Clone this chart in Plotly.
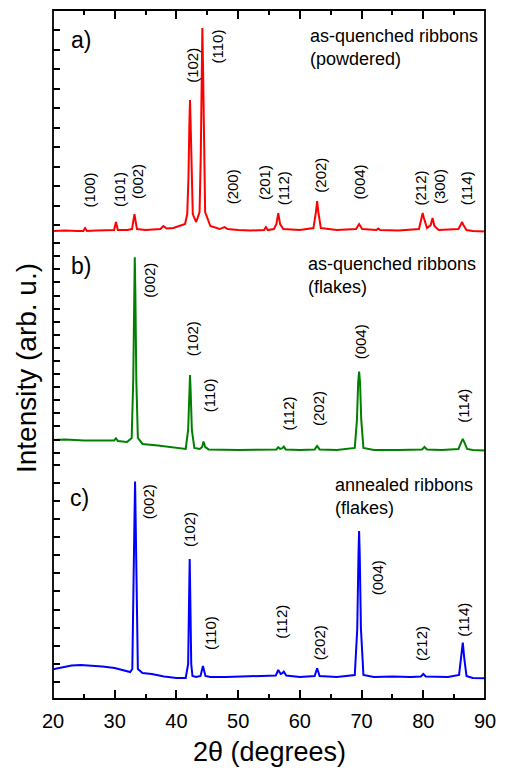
import plotly.graph_objects as go

# ---------------- data (2theta in degrees, intensity in arb. units) ----------------
# a) as-quenched ribbons (powdered)
two_theta_a = [20, 22, 24, 24.9, 25.2, 25.5, 27, 29, 29.9, 30.2, 30.5, 32, 32.8, 33.2, 33.6, 35,
               37.4, 37.9, 38.4, 39.5, 40.5, 41.4, 41.75, 41.95, 42.1, 42.2, 42.3, 42.45, 42.65,
               43.2, 43.75, 43.95, 44.1, 44.2, 44.3, 44.45, 44.65, 45.5, 47, 47.8, 48.3, 50, 52,
               54.2, 54.5, 54.8, 55.8, 56.2, 56.5, 56.8, 57.3, 60, 62.2, 62.6, 62.8, 63.0, 63.4,
               66, 69.1, 69.6, 70.1, 72.4, 72.7, 73.0, 76, 79.3, 79.7, 79.9, 80.1, 80.6, 81.2,
               81.5, 81.8, 82.5, 85.7, 86.1, 86.3, 86.5, 87, 88, 90]
intensity_a = [7, 7.5, 7, 7, 10, 7, 7.5, 7.5, 8, 16, 8, 8, 9, 24, 9, 8,
               9, 12, 9.5, 10, 12, 14, 24, 60, 115, 138, 115, 60, 24,
               16, 26, 85, 175, 210, 175, 85, 26, 12, 9, 11, 9, 8, 7.5,
               8, 11, 8, 9, 14, 25, 14, 9, 8, 10, 26, 37, 26, 10,
               8, 9, 14, 9, 8, 9.5, 8, 7.5, 9, 20, 25, 20, 10, 13,
               20, 12, 8, 9, 14, 16, 13, 8, 7, 6.5]

# b) as-quenched ribbons (flakes)
two_theta_b = [20, 22, 25, 28, 29.9, 30.2, 30.5, 32, 32.75, 33.0, 33.15, 33.25, 33.35, 33.5, 33.75,
               34.5, 37, 40, 41.5, 41.9, 42.1, 42.2, 42.3, 42.5, 42.9, 43.8, 44.15, 44.4, 44.65,
               45.2, 50, 55, 56.2, 56.5, 56.8, 57.1, 57.4, 57.7, 60, 62.4, 62.8, 63.2, 66, 68.9,
               69.25, 69.45, 69.6, 69.75, 69.95, 70.3, 72, 76, 79.8, 80.2, 80.6, 83, 85.7, 86.1,
               86.4, 86.7, 87.1, 88, 90]
intensity_b = [20, 20.5, 19.5, 19.5, 19.5, 21.5, 19, 18, 22, 80, 165, 202.7, 165, 80, 22,
               16, 14.5, 12, 11, 30, 70, 85, 70, 30, 12, 11, 13, 18.3, 13,
               10.5, 10, 10, 10.5, 12.7, 11, 11.5, 13.3, 10.5, 10, 10.5, 14, 10.5, 10, 12,
               40, 78, 88.3, 78, 40, 12, 10, 10, 10.5, 13, 10.5, 10, 11, 17,
               21, 17, 11, 10, 9.5]

# c) annealed ribbons (flakes)
two_theta_c = [20, 21.5, 23, 24.5, 26, 28, 30, 31.5, 32.5, 32.85, 33.05, 33.2, 33.3, 33.4, 33.55,
               33.75, 34.5, 36, 38, 40, 41.5, 41.9, 42.05, 42.15, 42.25, 42.4, 42.6, 43.2, 43.9,
               44.3, 44.7, 45.5, 48, 51, 54, 56.1, 56.5, 56.9, 57.1, 57.4, 57.8, 60, 62.4, 62.8,
               63.2, 66, 68.9, 69.3, 69.5, 69.6, 69.7, 69.9, 70.3, 72, 75, 78, 79.6, 80.0, 80.4,
               82, 84, 85.8, 86.15, 86.4, 86.65, 87.0, 88, 90]
intensity_c = [29.7, 31.5, 33.5, 34, 33.5, 32.5, 31, 29, 27, 30, 95, 180, 217.3, 180, 95,
               30, 26, 25, 22.5, 21, 21, 35, 100, 140, 100, 35, 23, 22, 23,
               33, 23, 22, 22, 22.5, 23, 23.5, 29, 25, 25.5, 27.3, 23.5, 22, 23, 30.7,
               23, 22, 24, 70, 145, 168, 145, 70, 24, 22, 22.5, 22, 22.5, 25, 22.5,
               22, 22, 24, 40, 56.3, 40, 23, 21, 20.7]

# peak labels: (text, 2theta position, intensity position)
labels_a = ["(100)", "(101)", "(002)", "(102)", "(110)", "(200)", "(201)", "(112)", "(202)",
            "(004)", "(212)", "(300)", "(114)"]
label_x_a = [25.9, 30.7, 33.8, 42.5, 46.7, 49.1, 54.2, 57.4, 63.2, 69.7, 79.5, 82.6, 86.9]
label_y_a = [48, 48, 56.3, 173, 191.3, 51.3, 55, 49.7, 63, 56.3, 49.7, 51.3, 49.7]

labels_b = ["(002)", "(102)", "(110)", "(112)", "(202)", "(004)", "(114)"]
label_x_b = [35.5, 42.5, 45.5, 58.1, 62.9, 69.75, 86.6]
label_y_b = [180, 121.7, 65, 46.7, 51.7, 117.7, 54.3]

labels_c = ["(002)", "(102)", "(110)", "(112)", "(202)", "(004)", "(212)", "(114)"]
label_x_c = [35.5, 42.2, 45.5, 57.1, 63.2, 72.5, 79.8, 86.5]
label_y_c = [197.3, 169, 66.3, 77.3, 56.3, 120.7, 55, 79.7]

panel_letters = ["a)", "b)", "c)"]
panel_titles = ["as-quenched ribbons<br>(powdered)",
                "as-quenched ribbons<br>(flakes)",
                "annealed ribbons<br>(flakes)"]

x_title = "2θ (degrees)"
y_title = "Intensity (arb. u.)"

FONT = "Liberation Sans, Arial, sans-serif"

fig = go.Figure()
fig.add_trace(go.Scatter(x=two_theta_a, y=intensity_a, mode="lines", xaxis="x2", yaxis="y3",
                         line=dict(color="#ff0000", width=2), showlegend=False))
fig.add_trace(go.Scatter(x=two_theta_b, y=intensity_b, mode="lines", xaxis="x", yaxis="y2",
                         line=dict(color="#008000", width=2), showlegend=False))
fig.add_trace(go.Scatter(x=two_theta_c, y=intensity_c, mode="lines", xaxis="x", yaxis="y",
                         line=dict(color="#0000ff", width=2), showlegend=False))

ann = []
for txts, xs, ys, yref in [(labels_a, label_x_a, label_y_a, "y3"),
                           (labels_b, label_x_b, label_y_b, "y2"),
                           (labels_c, label_x_c, label_y_c, "y")]:
    for t, xv, yv in zip(txts, xs, ys):
        ann.append(dict(text=t, x=xv, y=yv, xref="x", yref=yref, textangle=-90,
                        showarrow=False, xanchor="center", yanchor="middle",
                        font=dict(family=FONT, size=15, color="black")))

letter_pos = [(24.6, 198, "y3"), (24.6, 194, "y2"), (24.3, 200.7, "y")]
for t, (xv, yv, yref) in zip(panel_letters, letter_pos):
    ann.append(dict(text=t, x=xv, y=yv, xref="x", yref=yref, showarrow=False,
                    xanchor="center", yanchor="middle",
                    font=dict(family=FONT, size=23, color="black")))

title_pos = [(61.3, 190.3, "y3"), (61.0, 184.7, "y2"), (65.3, 202, "y")]
for t, (xv, yv, yref) in zip(panel_titles, title_pos):
    ann.append(dict(text=t, x=xv, y=yv, xref="x", yref=yref, showarrow=False,
                    xanchor="left", yanchor="middle", align="left",
                    font=dict(family=FONT, size=18, color="black")))

ann.append(dict(text=y_title, x=-0.063, y=0.48, xref="paper", yref="paper", textangle=-90,
                showarrow=False, xanchor="center", yanchor="middle",
                font=dict(family=FONT, size=28, color="black")))
ann.append(dict(text=x_title, x=0.5, y=-0.077, xref="paper", yref="paper",
                showarrow=False, xanchor="center", yanchor="middle",
                font=dict(family=FONT, size=27, color="black")))

common_x = dict(range=[20, 90], showgrid=False, zeroline=False, showline=False,
                ticks="inside", ticklen=9, tickwidth=1.5, tickcolor="black", dtick=10, tick0=20,
                minor=dict(ticks="inside", ticklen=5, tickwidth=1.5, tickcolor="black", dtick=5),
                domain=[0, 1])
common_y = dict(showgrid=False, zeroline=False, showline=False, showticklabels=False,
                ticks="inside", ticklen=7, tickwidth=1.5, tickcolor="black")

fig.update_layout(
    width=506, height=770,
    margin=dict(l=53, r=15, t=10, b=71),
    paper_bgcolor="white", plot_bgcolor="white",
    font=dict(family=FONT, color="black"),
    xaxis=dict(**common_x, anchor="y", ticklabelstandoff=8,
               tickfont=dict(family=FONT, size=20, color="black")),
    xaxis2=dict(**common_x, anchor="y3", side="top", matches="x", showticklabels=False),
    yaxis=dict(**common_y, domain=[0, 0.347], range=[0, 239], anchor="x", tick0=17, dtick=18.1),
    yaxis2=dict(**common_y, domain=[0.347, 0.669], range=[0, 222], anchor="x", tick0=7.3, dtick=13.1),
    yaxis3=dict(**common_y, domain=[0.669, 1], range=[0, 228], anchor="x2", tick0=13, dtick=19.5),
    annotations=ann,
    shapes=[dict(type="rect", xref="paper", yref="paper", x0=0, x1=1, y0=0, y1=1,
                 line=dict(color="black", width=1.8))],
)

fig.write_html("out.html")
